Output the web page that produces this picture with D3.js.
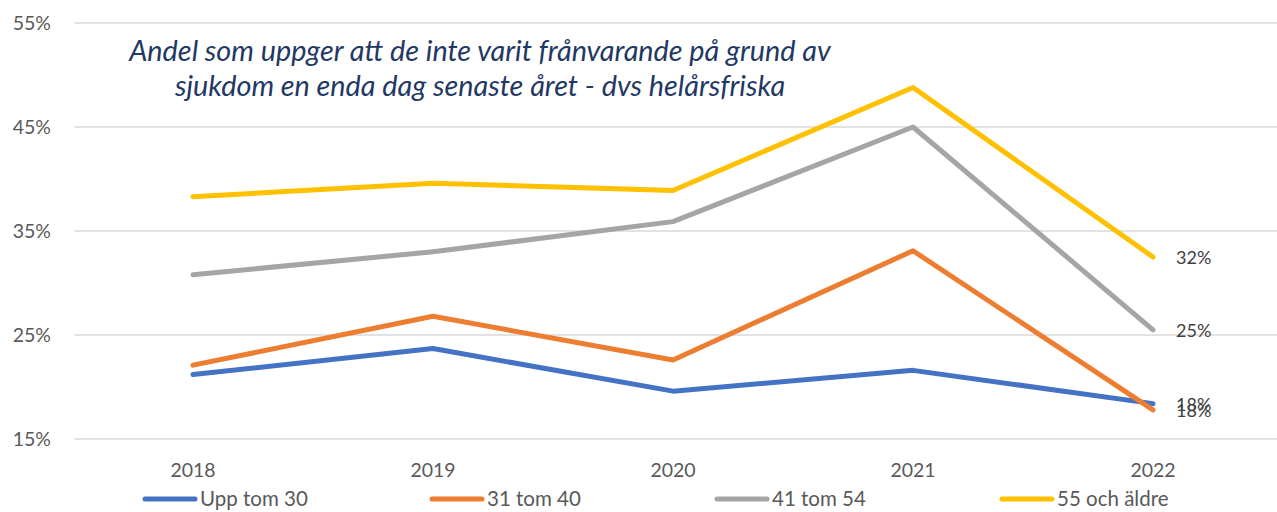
<!DOCTYPE html>
<html><head><meta charset="utf-8">
<script src="https://cdn.jsdelivr.net/npm/d3@7"></script>
<style>body{margin:0;background:#fff}svg{display:block}</style>
</head><body><svg id="c" width="1277" height="512"></svg>
<script>
const years = ["2018","2019","2020","2021","2022"];
const seriesNames = ["Upp tom 30","31 tom 40","41 tom 54","55 och äldre"];
const upp30 = [21.2, 23.7, 19.6, 21.6, 18.4];
const t31_40 = [22.1, 26.8, 22.6, 33.1, 17.8];
const t41_54 = [30.8, 33.0, 35.9, 45.0, 25.5];
const o55 = [38.3, 39.6, 38.9, 48.8, 32.5];
const endLabels = ["18%","18%","25%","32%"];
const yTicks = [15,25,35,45,55];
const colors = ["#4472C4","#ED7D31","#A5A5A5","#FFC000"];
const title = ["Andel som uppger att de inte varit frånvarande på grund av","sjukdom en enda dag senaste året - dvs helårsfriska"];

const data = [upp30, t31_40, t41_54, o55];
const svg = d3.select("#c");
const font = "Lato, 'Open Sans', sans-serif";
const x = d3.scaleBand().domain(years).range([73,1273]);
const y = d3.scaleLinear().domain([15,55]).range([439,23]);

// gridlines
svg.append("g").selectAll("line").data(yTicks).join("line")
  .attr("x1",74).attr("x2",1277).attr("y1",d=>y(d)).attr("y2",d=>y(d))
  .attr("stroke","#d9d9d9").attr("stroke-width",1.3);
// y axis labels
svg.append("g").selectAll("text").data(yTicks).join("text")
  .attr("x",51).attr("y",d=>y(d)).attr("dy","0.35em").attr("text-anchor","end")
  .attr("font-family",font).attr("font-size",19.5).attr("fill","#595959")
  .text(d=>d+"%");
// x labels
svg.append("g").selectAll("text").data(years).join("text")
  .attr("x",d=>x(d)+x.bandwidth()/2).attr("y",477).attr("text-anchor","middle")
  .attr("font-family",font).attr("font-size",19.5).attr("fill","#595959").text(d=>d);
// lines
const line = d3.line().x((d,i)=>x(years[i])+x.bandwidth()/2).y(d=>y(d));
svg.append("g").selectAll("path").data(data).join("path")
  .attr("d",d=>line(d)).attr("fill","none").attr("stroke",(d,i)=>colors[i])
  .attr("stroke-width",5).attr("stroke-linecap","round").attr("stroke-linejoin","round");
// end labels
svg.append("g").selectAll("text").data(data).join("text")
  .attr("x",x(years[4])+x.bandwidth()/2+23).attr("y",d=>y(d[4])+1).attr("dy","0.35em")
  .attr("font-family",font).attr("font-size",18).attr("fill","#404040")
  .text((d,i)=>endLabels[i]);
// title
svg.append("g").selectAll("text").data(title).join("text")
  .attr("x",480).attr("y",(d,i)=>61+i*35).attr("text-anchor","middle")
  .attr("font-family",font).attr("font-style","italic").attr("font-size",28.8).attr("fill","#1F3864")
  .text(d=>d);
// legend
const legX = [143,430,715,1000];
const lg = svg.append("g").selectAll("g").data(seriesNames).join("g")
  .attr("transform",(d,i)=>`translate(${legX[i]},499)`);
lg.append("line").attr("x1",2).attr("x2",52).attr("stroke",(d,i)=>colors[i]).attr("stroke-width",5).attr("stroke-linecap","round");
lg.append("text").attr("x",57).attr("dy","0.35em").attr("font-family",font).attr("font-size",20.5).attr("fill","#595959").text(d=>d);
</script></body></html>
